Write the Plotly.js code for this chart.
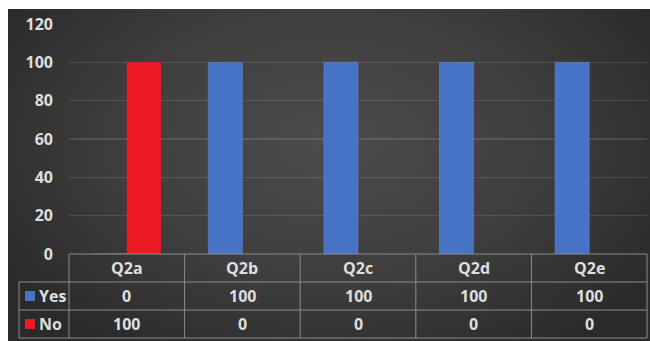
<!DOCTYPE html>
<html><head><meta charset="utf-8">
<script src="https://cdn.plot.ly/plotly-3.0.1.min.js"></script>
<style>
html,body{margin:0;padding:0;background:#fff;width:650px;height:341px;overflow:hidden;}
#chart{position:absolute;left:8px;top:9px;width:642px;height:332px;
background:radial-gradient(ellipse 60% 75% at 50% 40%, #4c4c4c 0%, #3e3e3e 55%, #2a2a2a 100%);}
</style></head>
<body><div id="chart"></div>
<script>
var categories = ["Q2a","Q2b","Q2c","Q2d","Q2e"];
var seriesNames = ["Yes","No"];
var yesValues = [0,100,100,100,100];
var noValues = [100,0,0,0,0];
var yTicks = [0,20,40,60,80,100,120];

var colors = ["#4773C6","#ED1C24"];
var W=642,H=332,mL=61,mR=3,mT=15,mB=87;
var pw=W-mL-mR, ph=H-mT-mB;
var rowH=28;
function py(off){return -off/ph;}
var legX0 = (19-69)/pw;
var txt = "#dedede";
var lineC = "#8c8c8c";
var F = {family:"Open Sans, sans-serif", size:16, color:txt, weight:700};

var traces = [
 {type:"bar", name:seriesNames[0], x:categories, y:yesValues, marker:{color:colors[0], line:{color:"#6a8fd6",width:0.5}}},
 {type:"bar", name:seriesNames[1], x:categories, y:noValues, marker:{color:colors[1]}}
];

var shapes=[], ann=[];
function hl(x0,x1,y){shapes.push({type:"line",xref:"paper",yref:"paper",x0:x0,x1:x1,y0:y,y1:y,line:{color:lineC,width:1}});}
function vl(x,y0,y1){shapes.push({type:"line",xref:"paper",yref:"paper",x0:x,x1:x,y0:y0,y1:y1,line:{color:lineC,width:1}});}
hl(0,1,py(0));
hl(legX0,1,py(rowH));
hl(legX0,1,py(2*rowH));
hl(legX0,1,py(3*rowH));
vl(legX0,py(rowH),py(3*rowH));
for(var i=0;i<=categories.length;i++){vl(i/categories.length,py(0),py(3*rowH));}

var rows=[yesValues,noValues];
categories.forEach(function(c,i){
  ann.push({xref:"x",yref:"paper",x:c,y:py(rowH/2),text:c,showarrow:false,font:F,xanchor:"center",yanchor:"middle"});
  rows.forEach(function(r,j){
    ann.push({xref:"x",yref:"paper",x:c,y:py(rowH*(j+1.5)),text:String(r[i]),showarrow:false,font:F,xanchor:"center",yanchor:"middle"});
  });
});
seriesNames.forEach(function(n,j){
  var yc=py(rowH*(j+1.5));
  var sx0=(25-69)/pw, sx1=(35-69)/pw;
  shapes.push({type:"rect",xref:"paper",yref:"paper",x0:sx0,x1:sx1,y0:yc-5/ph,y1:yc+5/ph,fillcolor:colors[j],line:{width:0}});
  ann.push({xref:"paper",yref:"paper",x:(37-69)/pw,y:yc,text:n,showarrow:false,font:F,xanchor:"left",yanchor:"middle"});
});

var layout={
  width:W,height:H,margin:{l:mL,r:mR,t:mT,b:mB,pad:0},
  paper_bgcolor:"rgba(0,0,0,0)",plot_bgcolor:"rgba(0,0,0,0)",
  barmode:"group",bargap:0.41,bargroupgap:0,showlegend:false,
  xaxis:{type:"category",showticklabels:false,showgrid:false,zeroline:false,showline:false,ticks:""},
  yaxis:{range:[0,120],tickvals:yTicks,ticktext:yTicks.map(String),showgrid:true,gridcolor:"rgba(255,255,255,0.11)",gridwidth:1.5,zeroline:false,showline:false,ticks:"",ticklabelstandoff:15,tickfont:F},
  shapes:shapes,annotations:ann
};
Plotly.newPlot("chart",traces,layout,{displayModeBar:false,staticPlot:true});
</script></body></html>
